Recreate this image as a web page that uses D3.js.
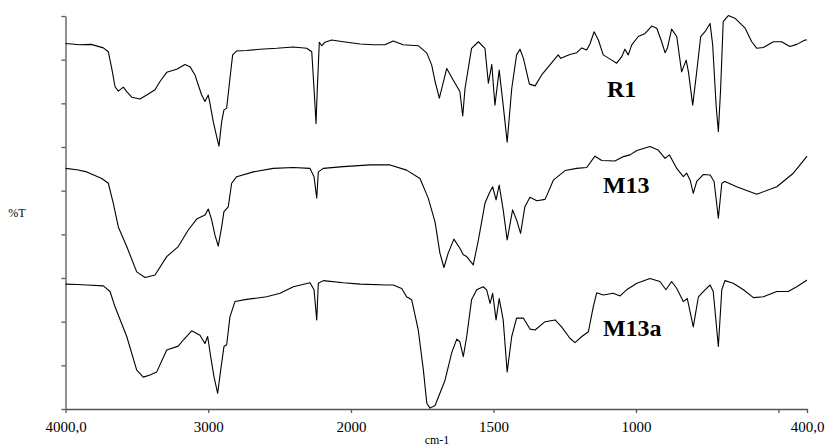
<!DOCTYPE html>
<html>
<head>
<meta charset="utf-8">
<script src="https://cdn.jsdelivr.net/npm/d3@7"></script>
<style>
	body { margin: 0; background: #fff; }
	svg { display: block; }
	.axis path, .axis line { stroke: #555; stroke-width: 1.3; }
	.axis text { font-family: 'Liberation Serif', 'Times New Roman', serif; font-size: 15px; fill: #000; }
</style>
</head>
<body>
<div id="chart"></div>
<script>
//x ticks (cm-1) and their labels
var xTicks = [4000, 3000, 2000, 1500, 1000, 500, 400];
var xTickLabels = ["4000,0", "3000", "2000", "1500", "1000", "", "400,0"];
var yTicks = [0, 10, 20, 30, 40, 50, 60, 70, 80, 90];

//series names
var seriesNames = ["R1", "M13", "M13a"];

//[wavenumber, %T]
var r1Data = [
	[4000, 83.7], [3900, 83.4], [3820, 83.5], [3735, 82.7], [3700, 81.8], [3676, 78.0], [3653, 73.8], [3630, 72.8], [3595, 73.7], [3571, 72.7],
	[3536, 71.4], [3478, 71.0], [3431, 71.9], [3373, 73.1], [3338, 75.0], [3291, 77.1], [3221, 77.8], [3163, 78.9], [3128, 78.4],
	[3093, 76.5], [3070, 74.2], [3046, 71.9], [3023, 70.4], [3000, 71.9], [2988, 70.0], [2965, 65.8], [2941, 62.4], [2925, 60.2],
	[2906, 65.8], [2890, 68.5], [2871, 68.9], [2848, 75.7], [2829, 81.1], [2801, 82.0], [2731, 82.1], [2638, 82.4], [2521, 82.6],
	[2404, 82.9], [2310, 82.6], [2275, 81.8], [2259, 73.4], [2245, 65.4], [2236, 73.4], [2222, 84.0], [2205, 83.2], [2182, 84.0],
	[2135, 84.5], [2054, 84.1], [1968, 83.6], [1922, 83.4], [1881, 83.4], [1852, 84.3], [1817, 83.4], [1764, 83.2], [1734, 81.5],
	[1717, 78.8], [1705, 75.0], [1690, 71.2], [1664, 78.0], [1641, 75.3], [1618, 72.7], [1608, 67.1], [1600, 73.4], [1577, 82.6],
	[1553, 84.1], [1530, 82.6], [1518, 74.6], [1506, 78.9], [1495, 69.6], [1480, 77.6], [1466, 69.6], [1452, 61.1], [1436, 73.4],
	[1419, 81.1], [1407, 82.4], [1395, 80.3], [1374, 74.4], [1354, 74.0], [1331, 76.5], [1302, 78.8], [1273, 81.1], [1264, 80.3],
	[1232, 81.2], [1208, 81.6], [1190, 82.7], [1173, 82.2], [1161, 83.7], [1147, 86.4], [1132, 84.5], [1115, 81.1], [1085, 79.9],
	[1068, 79.2], [1050, 80.7], [1039, 82.4], [1027, 81.1], [1015, 83.4], [992, 85.3], [968, 86.0], [945, 87.7], [927, 87.2],
	[910, 84.1], [898, 81.6], [890, 82.6], [875, 87.0], [857, 85.3], [840, 77.2], [824, 79.9], [816, 77.2], [801, 69.6],
	[787, 77.2], [773, 85.3], [758, 86.4], [740, 88.3], [731, 83.4], [719, 69.6], [711, 63.5], [703, 73.4], [694, 88.7],
	[676, 90.1], [653, 89.5], [617, 87.2], [594, 84.1], [576, 82.6], [553, 82.8], [518, 84.1], [489, 84.1], [460, 83.0],
	[436, 83.5], [407, 84.5], [400, 84.5]
];
var m13Data = [
	[4000, 55.1], [3920, 54.8], [3851, 54.3], [3746, 52.8], [3700, 51.7], [3665, 47.1], [3630, 41.7], [3571, 37.2], [3501, 31.4],
	[3443, 30.1], [3373, 30.7], [3291, 34.9], [3210, 37.2], [3140, 41.0], [3081, 43.5], [3023, 44.4], [3000, 45.8], [2976, 43.3],
	[2953, 39.8], [2930, 37.3], [2906, 41.7], [2890, 45.2], [2860, 46.3], [2836, 51.7], [2801, 53.2], [2684, 54.3], [2544, 55.1],
	[2404, 55.3], [2287, 55.1], [2259, 53.2], [2240, 48.3], [2229, 54.3], [2194, 55.1], [2054, 55.5], [1933, 55.9], [1863, 55.9],
	[1805, 54.7], [1758, 52.8], [1729, 48.3], [1705, 42.8], [1688, 35.7], [1674, 32.4], [1659, 35.7], [1639, 38.9], [1618, 36.8],
	[1606, 35.3], [1594, 34.9], [1571, 33.0], [1553, 38.7], [1530, 47.1], [1515, 49.4], [1503, 50.9], [1491, 47.9], [1480, 51.3],
	[1466, 45.6], [1452, 38.7], [1433, 45.6], [1419, 43.3], [1405, 40.2], [1390, 46.3], [1372, 48.5], [1348, 47.7], [1319, 48.0],
	[1290, 52.4], [1249, 54.6], [1208, 55.1], [1173, 55.3], [1144, 57.9], [1120, 56.9], [1074, 56.8], [1044, 57.8], [1021, 58.2],
	[997, 59.2], [951, 60.1], [922, 59.3], [898, 57.4], [883, 58.2], [857, 55.1], [834, 53.2], [822, 54.0], [810, 52.4],
	[799, 49.4], [787, 52.1], [764, 53.7], [740, 53.6], [726, 52.1], [711, 43.7], [699, 51.7], [688, 52.1], [647, 50.9],
	[576, 49.2], [506, 50.9], [448, 54.0], [401, 57.8], [400, 57.9]
];
var m13aData = [
	[4000, 28.6], [3920, 28.5], [3851, 28.4], [3735, 28.2], [3688, 26.9], [3653, 23.4], [3571, 16.6], [3501, 8.9], [3455, 7.3],
	[3408, 7.8], [3361, 8.5], [3291, 13.5], [3210, 14.4], [3175, 15.8], [3116, 17.9], [3058, 16.9], [3023, 15.0], [3004, 16.6],
	[2983, 12.0], [2960, 7.4], [2934, 3.6], [2913, 8.9], [2890, 14.3], [2871, 14.7], [2848, 21.1], [2813, 24.6], [2731, 25.1],
	[2591, 25.7], [2497, 26.5], [2404, 28.0], [2287, 28.9], [2259, 27.3], [2240, 20.4], [2229, 28.8], [2194, 29.4], [2054, 28.9],
	[1968, 28.6], [1875, 28.4], [1852, 28.4], [1822, 27.6], [1805, 25.7], [1787, 25.0], [1764, 18.1], [1746, 8.9], [1734, 1.3],
	[1723, 0.2], [1705, 0.8], [1688, 3.6], [1670, 6.6], [1647, 12.8], [1629, 16.0], [1618, 15.4], [1606, 12.0], [1594, 16.6],
	[1577, 25.0], [1559, 27.3], [1536, 28.0], [1524, 27.3], [1512, 24.2], [1503, 26.5], [1491, 20.4], [1480, 25.3], [1466, 20.4],
	[1452, 8.5], [1436, 16.6], [1419, 20.8], [1395, 20.8], [1372, 18.3], [1354, 18.1], [1319, 20.0], [1284, 20.4], [1261, 18.8],
	[1232, 16.2], [1214, 15.2], [1190, 16.6], [1167, 17.7], [1150, 23.4], [1138, 26.6], [1115, 26.1], [1080, 26.5], [1056, 25.9],
	[1033, 27.3], [997, 28.8], [951, 29.9], [916, 29.2], [895, 27.3], [875, 29.2], [857, 27.6], [834, 24.6], [820, 25.3],
	[799, 18.8], [781, 25.7], [758, 27.3], [740, 28.4], [729, 26.9], [711, 14.3], [699, 27.3], [688, 29.4], [659, 28.8],
	[623, 27.3], [588, 25.5], [553, 25.7], [506, 26.9], [466, 26.9], [436, 28.0], [401, 29.5], [400, 29.5]
];

var width = 826, height = 448;

var svg = d3.select("#chart").append("svg")
	.attr("width", width)
	.attr("height", height);

//spectrometer style axis: 4000-2000 at half the scale of 2000-400
var x = d3.scaleLinear()
	.domain([4000, 2000, 400])
	.range([65.5, 351, 807]);

var y = d3.scaleLinear()
	.domain([0, 90])
	.range([409, 16]);

var xAxis = d3.axisBottom(x)
	.tickValues(xTicks)
	.tickSize(4)
	.tickSizeOuter(0)
	.tickPadding(8)
	.tickFormat(function (d, i) { return xTickLabels[i]; });

var yAxis = d3.axisLeft(y)
	.tickValues(yTicks)
	.tickSize(4)
	.tickSizeOuter(0)
	.tickFormat("");

svg.append("g")
	.attr("class", "axis")
	.attr("transform", "translate(0," + y(0) + ")")
	.call(xAxis);

svg.append("g")
	.attr("class", "axis")
	.attr("transform", "translate(" + x(4000) + ",0)")
	.call(yAxis);

//axis titles
svg.append("text")
	.attr("x", 17)
	.attr("y", 217)
	.attr("text-anchor", "middle")
	.style("font-family", "'Liberation Serif', 'Times New Roman', serif")
	.style("font-size", "12px")
	.text("%T");

svg.append("text")
	.attr("x", 437)
	.attr("y", 444)
	.attr("text-anchor", "middle")
	.style("font-family", "'Liberation Serif', 'Times New Roman', serif")
	.style("font-size", "12px")
	.text("cm-1");

var line = d3.line()
	.x(function (d) { return x(d[0]); })
	.y(function (d) { return y(d[1]); });

var allSeries = [r1Data, m13Data, m13aData];

svg.selectAll(".spectrum")
	.data(allSeries)
	.enter()
	.append("path")
	.attr("class", "spectrum")
	.attr("d", line)
	.attr("fill", "none")
	.attr("stroke", "#000")
	.attr("stroke-width", 1.1)
	.attr("stroke-linejoin", "round");

//sample names next to the curves (wavenumber, %T of the text baseline start)
var labelPos = [[1102, 71.4], [1116, 49.4], [1116, 16.7]];
svg.selectAll(".name")
	.data(seriesNames)
	.enter()
	.append("text")
	.attr("class", "name")
	.attr("x", function (d, i) { return x(labelPos[i][0]); })
	.attr("y", function (d, i) { return y(labelPos[i][1]); })
	.style("font-family", "'Liberation Serif', 'Times New Roman', serif")
	.style("font-weight", "bold")
	.style("font-size", "24px")
	.text(function (d) { return d; });
</script>
</body>
</html>
